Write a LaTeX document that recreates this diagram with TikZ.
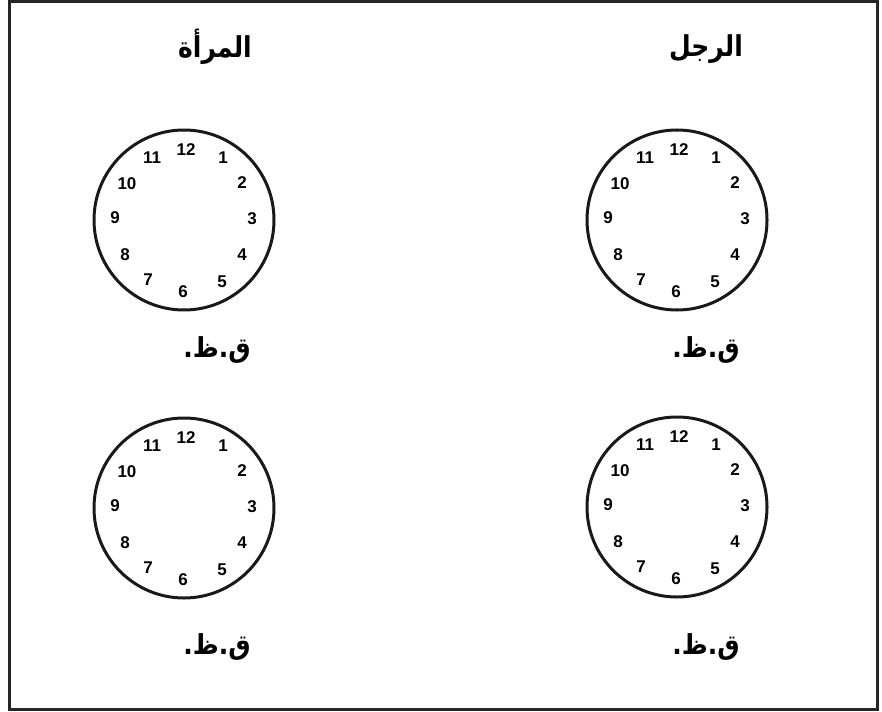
\documentclass[tikz,border=0pt]{standalone}
\usepackage{fontspec}
\setmainfont{Liberation Sans}
\newfontfamily\arabicfont[Script=Arabic]{DejaVu Sans}
\TeXXeTstate=1
\tikzset{
  frame/.style={draw=black!85, line width=3pt},
  dial/.style={draw=black!90, line width=3pt},
  num/.style={font=\bfseries\fontsize{17}{17}\selectfont, inner sep=0pt, anchor=center},
  head/.style={font=\arabicfont\bfseries\fontsize{25}{28}\selectfont, inner sep=0pt, anchor=base, yscale=1.15},
  ampm/.style={font=\arabicfont\bfseries\fontsize{25}{28}\selectfont, inner sep=0pt, anchor=base, yscale=1.1},
}
\begin{document}
\begin{tikzpicture}[x=1pt,y=-1pt]
\useasboundingbox (0,0) rectangle (882,711);
\draw[frame] (9.5,1.5) rectangle (877.5,709);
\node[head] (woman) at (215,58) {\beginR المرأة\endR};
\node[head] (man) at (706,57) {\beginR الرجل\endR};
\foreach \c/\cx/\cy in {a/184/220, b/677/220, c/184/508, d/677/507}{
  \begin{scope}[shift={(\cx,\cy)}]
    \node[dial, circle, minimum size=180pt, inner sep=0pt] (\c-dial) at (0,0) {};
    \foreach \n/\dx/\dy in {12/2/-70, 1/39/-62, 2/58/-37, 3/68/-1, 4/58/35, 5/38/62,
                            6/-1/72, 7/-36/60, 8/-59/35, 9/-69/-2, 10/-57/-36, 11/-32/-62}{
      \node[num] (\c-\n) at (\dx,\dy) {\n};
    }
  \end{scope}
}
\node[ampm] (a-lbl) at (217,357) {\beginR ق.ظ.\endR};
\node[ampm] (b-lbl) at (706,357) {\beginR ق.ظ.\endR};
\node[ampm] (c-lbl) at (217,654) {\beginR ق.ظ.\endR};
\node[ampm] (d-lbl) at (706,654) {\beginR ق.ظ.\endR};
\end{tikzpicture}
\end{document}
